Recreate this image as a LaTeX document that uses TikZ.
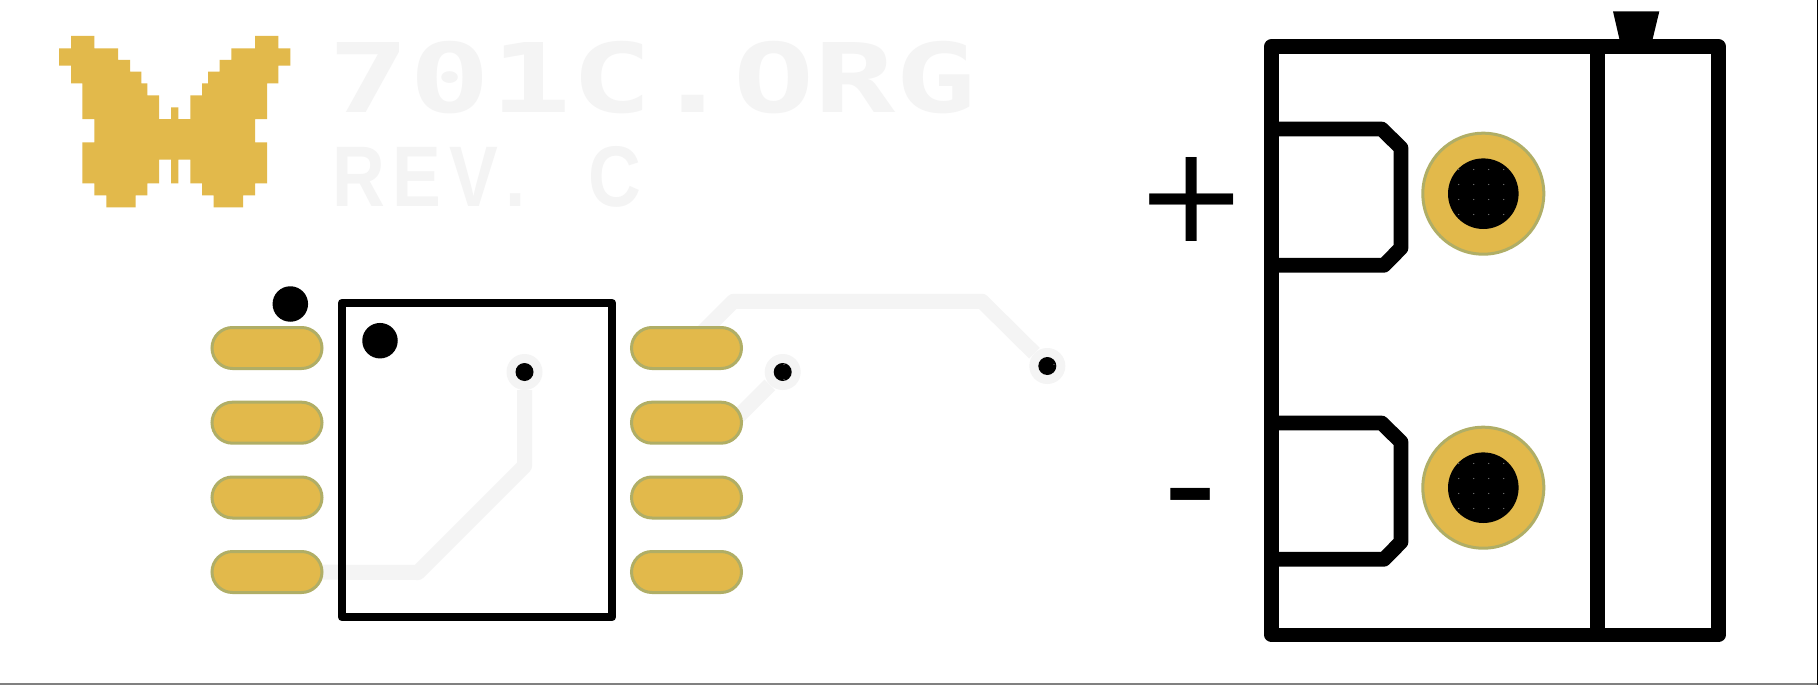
\documentclass[tikz,border=0pt]{standalone}
\usepackage{fontspec}
\setmainfont{DejaVu Sans}
\newfontfamily\silkmono{DejaVu Sans Mono}
\newfontfamily\silkrev[LetterSpace=11]{Liberation Sans}
\usetikzlibrary{shapes.misc,positioning,backgrounds}
\definecolor{goldpad}{HTML}{E2B94B}
\definecolor{goldedge}{HTML}{B0AE66}
\definecolor{tracegrey}{HTML}{F4F4F4}
\tikzset{
  pad/.style={rounded rectangle,draw=goldedge,fill=goldpad,line width=3pt,minimum width=110pt,minimum height=41pt,inner sep=0pt},
  via/.style={circle,fill=tracegrey,minimum size=36pt,inner sep=0pt,path picture={\fill[black] (path picture bounding box.center) circle (9);}},
  tpad/.style={circle,draw=goldedge,fill=goldpad,line width=3pt,minimum size=121pt,inner sep=0pt},
  dot/.style={circle,fill=black,minimum size=35.5pt,inner sep=0pt},
  trace/.style={draw=tracegrey,line width=15pt,line join=round},
  silk/.style={draw=black,line join=round},
  logotext/.style={text=tracegrey,inner sep=0pt,transform shape},
  sign/.style={inner sep=0pt},
}
\begin{document}
\begin{tikzpicture}[x=1pt,y=-1pt]
\useasboundingbox (0,0) rectangle (1818,685);
% logo
\fill[goldpad] (71,36) -- (94.3,36) -- (94.3,48.3) -- (118,48.3) -- (118,60) -- (130,60) -- (130,71.7) -- (141.3,71.7) -- (141.3,83.3) -- (147.3,83.3) -- (147.3,95.3) -- (159,95.3) -- (159,119) -- (171,119) -- (171,107.3) -- (178.3,107.3) -- (178.3,119) -- (190.3,119) -- (190.3,95.3) -- (202,95.3) -- (202,83.3) -- (208,83.3) -- (208,71.7) -- (219.7,71.7) -- (219.7,60) -- (231.3,60) -- (231.3,48.3) -- (255,48.3) -- (255,36) -- (278.3,36) -- (278.3,48.3) -- (290.3,48.3) -- (290.3,65.7) -- (278.3,65.7) -- (278.3,83.3) -- (267,83.3) -- (267,119) -- (255,119) -- (255,142.3) -- (267,142.3) -- (267,183.3) -- (255,183.3) -- (255,195.3) -- (243,195.3) -- (243,207.3) -- (213.7,207.3) -- (213.7,195.3) -- (202,195.3) -- (202,183.3) -- (190.3,183.3) -- (190.3,159.7) -- (178.3,159.7) -- (178.3,183.3) -- (171,183.3) -- (171,159.7) -- (159,159.7) -- (159,183.3) -- (147.3,183.3) -- (147.3,195.3) -- (135.7,195.3) -- (135.7,207.3) -- (106.3,207.3) -- (106.3,195.3) -- (94.3,195.3) -- (94.3,183.3) -- (82.3,183.3) -- (82.3,142.3) -- (94.3,142.3) -- (94.3,119) -- (82.3,119) -- (82.3,83.3) -- (71,83.3) -- (71,65.7) -- (59,65.7) -- (59,48.3) -- (71,48.3) -- cycle;
\node[logotext,anchor=west,xscale=1.403,font=\silkmono\bfseries\fontsize{96}{96}\selectfont] (name) at (328,78) {701C.ORG};
\node[logotext,anchor=west,xscale=0.85,font=\silkrev\bfseries\fontsize{86}{86}\selectfont] (rev) at (332,176.7) {REV\kern8pt.\hspace*{74pt}C};
% chip
\node[via] (via1) at (524.5,372) {};
\node[via] (via2) at (782.7,372) {};
\node[via] (via3) at (1047.3,366) {};
\foreach \x/\y in {784/364.5,784/379.5,1054/364.5} \fill[gray] (\x,\y) circle (0.7);
\foreach \y/\n in {348/1,422.7/2,497.5/3,572/4} \node[pad] (p\n) at (267,\y) {};
\foreach \y/\n in {348/5,422.7/6,497.5/7,572/8} \node[pad] (p\n) at (686.5,\y) {};
\coordinate (b1) at (418,572.5);
\coordinate (b2) at (524.5,466);
\coordinate (b3) at (733.5,301.3);
\coordinate (b4) at (982,301.3);
\coordinate (b5) at (732,422.7);
\begin{pgfonlayer}{background}
\fill[white] (0,0) rectangle (1818,685);
\draw[trace] (p4.center) -- (b1) -- (b2) -- (via1);
\draw[trace] (b5) -- (via2);
\draw[trace] (p5.center) -- (b3) -- (b4) -- (via3);
\end{pgfonlayer}
\draw[silk,line width=8.5pt] (342,303) rectangle (612,617);
\node[dot] (mark1) at (290.3,304) {};
\node[dot] (mark2) at (380,340.7) {};
% connector
\draw[silk,line width=14.7pt] (1271.7,46.3) rectangle (1718.3,635);
\draw[silk,line width=14.7pt] (1597.7,46.3) -- (1597.7,635);
\fill[black] (1613,11.4) -- (1659.3,11.4) -- (1652,41.7) -- (1620,41.7) -- cycle;
\foreach \y in {0,294} {
  \draw[silk,line width=14.7pt,yshift=-\y pt] (1271.7,129) -- (1381.7,129) -- (1401,148) -- (1401,248) -- (1384,265.3) -- (1271.7,265.3);
  \node[tpad] (t\y) at (1483.3,193.7+\y) {};
  \begin{scope}
    \fill[black] (1483.3,193.7+\y) circle (35.3);
    \clip (1483.3,193.7+\y) circle (35.3);
    \foreach \i in {0,...,3} \foreach \j in {-1,...,4}
      \fill[gray] (1458.7+15*\i,169.5+15*\j+\y) circle (0.7);
  \end{scope}
}
\node[sign,font=\fontsize{134}{134}\selectfont] (plus) at (1191.8,199) {+};
\node[sign,font=\fontsize{150}{150}\selectfont] (minus) at (1190.7,511.7) {-};
% frame edge
\draw[gray,line width=1.7pt] (0,684.2) -- (1818,684.2);
\draw[black,line width=1.3pt] (1817.3,0) -- (1817.3,685);
\end{tikzpicture}
\end{document}
